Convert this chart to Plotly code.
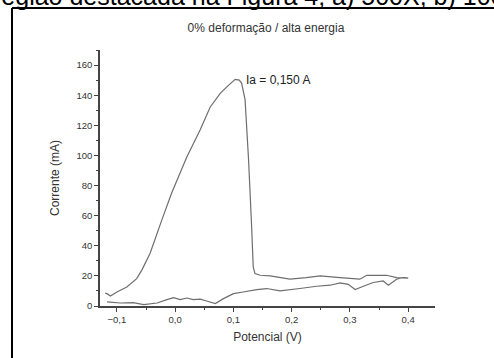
import plotly.graph_objects as go

# Forward (upper) branch
fwd_v = [-0.120, -0.117, -0.111, -0.100, -0.083, -0.066, -0.057, -0.043, -0.023, -0.006,
         0.020, 0.043, 0.060, 0.077, 0.090, 0.103, 0.110, 0.114, 0.120, 0.126, 0.131,
         0.134, 0.137, 0.146, 0.163, 0.197, 0.225, 0.249, 0.283, 0.317, 0.329, 0.363,
         0.380, 0.395, 0.400]
fwd_i = [8.5, 8.2, 6.6, 9.3, 12.6, 18.2, 24.0, 35.0, 57.0, 75.0,
         99.0, 117.0, 132.0, 141.0, 146.0, 150.5, 150.0, 148.0, 137.0, 97.0, 55.0,
         26.0, 21.5, 20.4, 20.0, 17.8, 18.8, 20.0, 18.9, 17.8, 20.4, 20.4,
         18.9, 18.9, 18.5]
# Reverse (lower) branch
rev_v = [0.400, 0.392, 0.380, 0.366, 0.357, 0.340, 0.323, 0.309, 0.297, 0.283, 0.266,
         0.243, 0.214, 0.180, 0.157, 0.140, 0.117, 0.100, 0.083, 0.069, 0.054, 0.043,
         0.031, 0.020, 0.009, -0.003, -0.014, -0.031, -0.054, -0.072, -0.094, -0.117]
rev_i = [18.5, 18.9, 17.8, 13.8, 16.6, 15.6, 13.1, 10.9, 14.4, 15.3, 13.8,
         13.1, 11.6, 10.0, 11.6, 10.9, 9.3, 8.2, 4.9, 1.6, 3.3, 4.5,
         4.2, 5.3, 4.2, 5.6, 4.2, 2.0, 0.9, 2.3, 2.0, 2.7]

x_ticks = [-0.1, 0.0, 0.1, 0.2, 0.3, 0.4]
y_ticks = [0, 20, 40, 60, 80, 100, 120, 140, 160]

FONT = "Arial, Liberation Sans, sans-serif"

fig = go.Figure()
fig.add_trace(go.Scatter(x=fwd_v + rev_v, y=fwd_i + rev_i, mode="lines",
                         line=dict(color="#6e6e6e", width=1.2), showlegend=False))

axis_font = dict(family=FONT, size=9.5, color="#333")
fig.update_layout(
    width=494, height=358,
    margin=dict(l=100, r=59, t=50, b=52),
    paper_bgcolor="white", plot_bgcolor="white",
    separators=",.",
    title=dict(text="0% deformação / alta energia", x=266/494, xanchor="center",
               y=1-28/358, yanchor="middle",
               font=dict(family=FONT, size=12, color="#333")),
    xaxis=dict(range=[-0.129, 0.446], tickvals=x_ticks, tickformat=".1f",
               showgrid=False, zeroline=False, showline=True, linecolor="#444", linewidth=1.5,
               ticks="outside", ticklen=4, tickcolor="#444", tickfont=axis_font,
               minor=dict(dtick=0.05, tick0=0, ticks="outside", ticklen=2, tickcolor="#444"),
               title=dict(text="Potencial (V)", font=dict(family=FONT, size=12, color="#333"), standoff=8)),
    yaxis=dict(range=[0, 170], tickvals=y_ticks,
               showgrid=False, zeroline=False, showline=True, linecolor="#444", linewidth=1.5,
               ticks="outside", ticklen=4, tickcolor="#444", tickfont=axis_font,
               minor=dict(dtick=10, tick0=0, ticks="outside", ticklen=2, tickcolor="#444"),
               title=dict(text="Corrente (mA)", font=dict(family=FONT, size=12, color="#333"), standoff=14)),
)

fig.add_annotation(x=0.118, y=150, xref="x", yref="y", text="Ia = 0,150 A", showarrow=False,
                   xanchor="left", yanchor="middle",
                   font=dict(family=FONT, size=12, color="#222"))

# page-pixel -> paper conversions (plot area spans px 100..435, py 50..306)
def px_to_paper_x(px):
    return (px - 100) / 335
def py_to_paper_y(py):
    return (306 - py) / 256

# Cut-off caption text at top of scanned page
fig.add_annotation(x=px_to_paper_x(-9), y=py_to_paper_y(-4), xref="paper", yref="paper",
                   text="região destacada na Figura 4; a) 500X, b) 1000X",
                   showarrow=False, xanchor="left", yanchor="middle",
                   font=dict(family="Liberation Sans, Arial, sans-serif", size=25, color="#000"))

# page frame (left and top borders)
fig.add_shape(type="line", xref="paper", yref="paper",
              x0=px_to_paper_x(12), x1=px_to_paper_x(496), y0=py_to_paper_y(8), y1=py_to_paper_y(8),
              line=dict(color="black", width=2))
fig.add_shape(type="line", xref="paper", yref="paper",
              x0=px_to_paper_x(12), x1=px_to_paper_x(12), y0=py_to_paper_y(8), y1=py_to_paper_y(362),
              line=dict(color="black", width=2))

fig.write_html("out.html")
